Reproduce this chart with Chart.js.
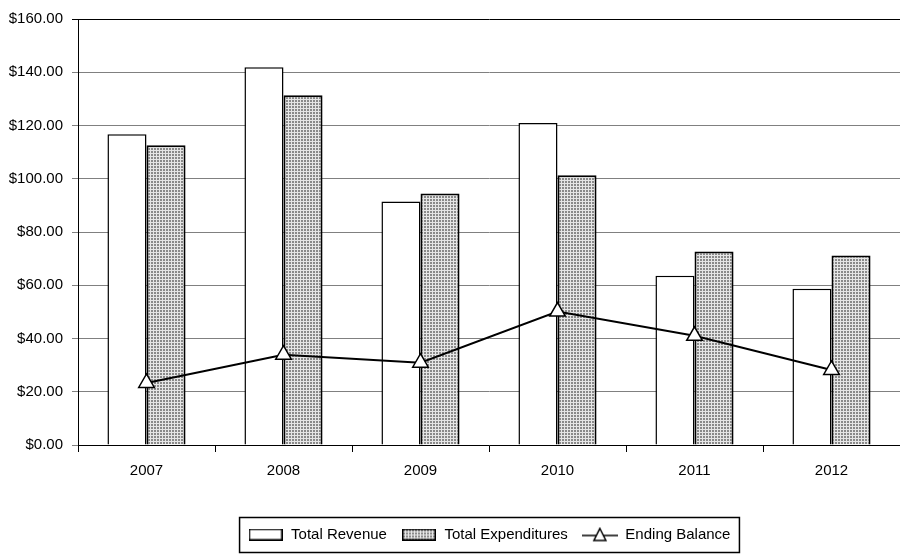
<!DOCTYPE html>
<html>
<head>
<meta charset="utf-8">
<script src="https://cdn.jsdelivr.net/npm/chart.js@4.4.1/dist/chart.umd.min.js"></script>
<style>
  html, body { margin: 0; padding: 0; background: #fff; }
  #wrap { width: 900px; height: 554px; }
</style>
</head>
<body>
<div id="wrap"><canvas id="chart" width="900" height="554"></canvas></div>
<script>
var years = ['2007', '2008', '2009', '2010', '2011', '2012'];
var totalRevenue = [116.7, 141.9, 91.5, 120.9, 63.6, 58.7];
var totalExpenditures = [112.6, 131.4, 94.5, 101.3, 72.7, 71.2];
var endingBalance = [23.3, 33.9, 30.9, 50.1, 41.0, 28.2];
var yTicks = [0, 20, 40, 60, 80, 100, 120, 140, 160];

var FONT = '"Liberation Sans", Arial, sans-serif';

var canvas = document.getElementById('chart');
var mainCtx = canvas.getContext('2d');

// small grey dotted fill like the spreadsheet pattern
var tile = document.createElement('canvas');
tile.width = 3; tile.height = 3;
var t = tile.getContext('2d');
t.fillStyle = '#8a8a8a'; t.fillRect(0, 0, 3, 3);
t.fillStyle = '#e6e6e6'; t.fillRect(0, 0, 3, 1); t.fillRect(0, 0, 1, 3);
var dots = mainCtx.createPattern(tile, 'repeat');

function boxIcon(fill) {
  var c = document.createElement('canvas');
  c.width = 34; c.height = 12;
  var x = c.getContext('2d');
  x.fillStyle = fill; x.fillRect(0, 0, 34, 12);
  x.strokeStyle = '#000'; x.lineWidth = 1.5;
  x.strokeRect(0.75, 0.75, 32.5, 10.5);
  return c;
}

function lineIcon() {
  var c = document.createElement('canvas');
  c.width = 36; c.height = 16;
  var x = c.getContext('2d');
  x.strokeStyle = '#000'; x.lineWidth = 1.5;
  x.beginPath(); x.moveTo(0, 9); x.lineTo(36, 9); x.stroke();
  x.beginPath(); x.moveTo(18, 2); x.lineTo(24, 14); x.lineTo(12, 14); x.closePath();
  x.fillStyle = '#fff'; x.fill(); x.stroke();
  return c;
}

var icons = [boxIcon('#fff'), boxIcon(dots), lineIcon()];

var legendBorder = {
  id: 'legendBorder',
  afterDraw: function (chart) {
    var lg = chart.legend;
    if (!lg || !lg.legendHitBoxes.length) return;
    var hb = lg.legendHitBoxes;
    var left = hb[0].left - 8;
    var last = hb[hb.length - 1];
    var right = last.left + last.width + 9;
    var mid = hb[0].top + hb[0].height / 2;
    var c = chart.ctx;
    c.save();
    c.strokeStyle = '#000'; c.lineWidth = 1.5;
    c.strokeRect(left, mid - 17, right - left, 35);
    c.restore();
  }
};

new Chart(canvas, {
  type: 'bar',
  data: {
    labels: years,
    datasets: [{
      label: 'Ending Balance',
      type: 'line',
      data: endingBalance,
      borderColor: '#000',
      borderWidth: 2,
      pointStyle: 'triangle',
      pointRadius: 9,
      pointBackgroundColor: '#fff',
      pointBorderColor: '#000',
      pointBorderWidth: 1.5,
      tension: 0,
      order: 0
    }, {
      label: 'Total Revenue',
      data: totalRevenue,
      backgroundColor: '#fff',
      borderColor: '#000',
      borderWidth: 1.5,
      categoryPercentage: 0.57,
      barPercentage: 1.0,
      order: 1
    }, {
      label: 'Total Expenditures',
      data: totalExpenditures,
      backgroundColor: dots,
      borderColor: '#000',
      borderWidth: 2,
      categoryPercentage: 0.57,
      barPercentage: 1.0,
      order: 1
    }]
  },
  options: {
    responsive: false,
    animation: false,
    layout: { autoPadding: false, padding: { top: 19, right: 0, bottom: 2, left: 0 } },
    plugins: {
      tooltip: { enabled: false },
      legend: {
        position: 'bottom',
        fullSize: false,
        labels: {
          usePointStyle: true,
          pointStyleWidth: 36,
          padding: 14,
          color: '#000',
          font: { family: FONT, size: 15 },
          generateLabels: function (chart) {
            var order = [1, 2, 0];
            return order.map(function (i, k) {
              return {
                text: chart.data.datasets[i].label,
                pointStyle: icons[k],
                datasetIndex: i,
                fillStyle: '#fff',
                strokeStyle: '#000',
                lineWidth: 1,
                hidden: false,
                fontColor: '#000'
              };
            });
          }
        }
      }
    },
    scales: {
      x: {
        grid: { offset: true, drawOnChartArea: false, tickLength: 7, color: '#000' },
        border: { color: '#000', width: 1 },
        ticks: { color: '#000', padding: 10, font: { family: FONT, size: 15 } },
        afterFit: function (s) {
          s.height = 68;
          s.paddingLeft = 0;
          s.paddingRight = 0;
        }
      },
      y: {
        min: 0,
        max: 160,
        afterBuildTicks: function (s) {
          s.ticks = yTicks.map(function (v) { return { value: v }; });
        },
        ticks: {
          color: '#000',
          padding: 9,
          font: { family: FONT, size: 15 },
          callback: function (v) { return '$' + Number(v).toFixed(2); }
        },
        grid: {
          tickLength: 6,
          color: function (c) { return c.tick && c.tick.value === 160 ? '#000' : '#808080'; }
        },
        border: { color: '#000', width: 1 },
        afterFit: function (s) { s.width = 78; }
      }
    }
  },
  plugins: [legendBorder]
});
</script>
</body>
</html>
